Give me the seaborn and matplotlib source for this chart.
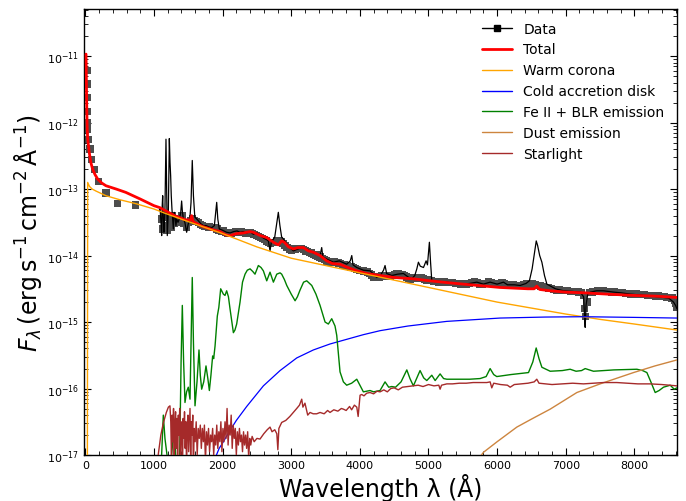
import numpy as np
import matplotlib
matplotlib.use("Agg")
import matplotlib.pyplot as plt
from matplotlib.lines import Line2D
from matplotlib.ticker import MultipleLocator, FixedLocator, LogLocator, NullFormatter
import seaborn as sns

# wavelengths in Angstrom, fluxes stored as log10(F_lambda)
phot_x = [23, 24, 25, 27, 30, 35, 50, 67, 92, 130, 195, 300, 470, 735]
phot_logf = [-11.22, -11.42, -11.62, -11.83, -12.0, -12.10, -12.25, -12.40,
             -12.56, -12.71, -12.89, -13.06, -13.22, -13.24]

# binned spectrum (grey squares)
bin_x = [1110, 1130, 1150, 1170, 1190, 1210, 1230, 1250, 1270, 1290, 1320, 1350,
         1380, 1410, 1440, 1470, 1500, 1530, 1560, 1590, 1620, 1650, 1680, 1710,
         1740, 1770, 1800, 1830, 1860, 1890, 1920, 1950, 1980, 2010, 2040, 2070,
         2100, 2130, 2160, 2190, 2220, 2250, 2280, 2310, 2340, 2370, 2400, 2430,
         2460, 2490, 2520, 2550, 2580, 2610, 2640, 2670, 2700, 2730, 2760, 2790,
         2820, 2850, 2880, 2910, 2940, 2970, 3000, 3030, 3060, 3090, 3120, 3150,
         3180, 3210, 3240, 3270, 3300, 3330, 3360, 3390, 3420, 3450, 3480, 3510,
         3540, 3570, 3600, 3630, 3660, 3690, 3720, 3750, 3780, 3810, 3840, 3870,
         3900, 3930, 3960, 3990, 4020, 4050, 4080, 4110, 4140, 4170, 4200, 4230,
         4260, 4290, 4320, 4350, 4380, 4410, 4440, 4470, 4500, 4530, 4560, 4590,
         4620, 4650, 4680, 4710, 4740, 4770, 4800, 4830, 4860, 4890, 4920, 4950,
         4980, 5010, 5040, 5070, 5110, 5150, 5190, 5230, 5270, 5310, 5350, 5390,
         5430, 5470, 5510, 5550, 5590, 5630, 5670, 5710, 5750, 5790, 5830, 5870,
         5910, 5950, 5990, 6030, 6070, 6110, 6150, 6190, 6230, 6270, 6310, 6350,
         6390, 6430, 6470, 6510, 6550, 6590, 6630, 6670, 6710, 6750, 6790, 6830,
         6870, 6910, 6950, 6990, 7030, 7070, 7110, 7150, 7190, 7230, 7260, 7275,
         7290, 7310, 7350, 7390, 7430, 7470, 7510, 7550, 7590, 7630, 7670, 7710,
         7750, 7790, 7830, 7870, 7910, 7950, 7990, 8030, 8070, 8110, 8150, 8190,
         8230, 8270, 8310, 8350, 8390, 8430, 8470, 8510, 8550, 8580, 8600, 8615]
bin_logf = [-13.45, -13.60, -13.40, -13.55, -13.62, -13.42, -13.50, -13.58, -13.40,
            -13.52, -13.45, -13.50, -13.44, -13.40, -13.52, -13.58, -13.50, -13.48,
            -13.45, -13.47, -13.49, -13.50, -13.53, -13.55, -13.56, -13.56, -13.57,
            -13.58, -13.58, -13.58, -13.60, -13.62, -13.63, -13.63, -13.65, -13.66,
            -13.67, -13.67, -13.65, -13.64, -13.64, -13.65, -13.64, -13.65,
            -13.66, -13.66, -13.66, -13.67, -13.68, -13.70, -13.71, -13.73, -13.74,
            -13.76, -13.78, -13.80, -13.81, -13.80, -13.80, -13.78, -13.77, -13.79,
            -13.82, -13.85, -13.88, -13.90, -13.92, -13.91, -13.90, -13.89, -13.89,
            -13.89, -13.91, -13.93, -13.94, -13.95, -13.96, -13.98, -13.99, -14.01,
            -14.02, -14.04, -14.06, -14.08, -14.09, -14.10, -14.10, -14.09, -14.10,
            -14.11, -14.12, -14.13, -14.14, -14.15, -14.16, -14.17, -14.18, -14.19,
            -14.21, -14.22, -14.22, -14.23, -14.24, -14.25, -14.27, -14.29, -14.32,
            -14.33, -14.33, -14.32, -14.30, -14.30, -14.31, -14.31, -14.31, -14.30,
            -14.29, -14.28, -14.28, -14.29, -14.29, -14.30, -14.32, -14.34, -14.36,
            -14.35, -14.34, -14.34, -14.34, -14.34, -14.35, -14.36, -14.37, -14.38,
            -14.38, -14.39, -14.39, -14.40, -14.40, -14.40, -14.41, -14.41, -14.41,
            -14.42, -14.42, -14.43, -14.43, -14.43, -14.42, -14.41, -14.40, -14.41,
            -14.43, -14.43, -14.42, -14.40, -14.41, -14.42, -14.43, -14.42, -14.41,
            -14.43, -14.44, -14.44, -14.44, -14.45, -14.45, -14.45, -14.44, -14.43,
            -14.43, -14.43, -14.44, -14.45, -14.46, -14.47, -14.48, -14.49, -14.50,
            -14.51, -14.52, -14.52, -14.53, -14.53, -14.53, -14.54, -14.54, -14.54,
            -14.55, -14.56, -14.60, -14.80, -14.92, -14.70, -14.56, -14.55, -14.54,
            -14.53, -14.53, -14.53, -14.54, -14.54, -14.55, -14.55, -14.56, -14.56,
            -14.56, -14.57, -14.57, -14.58, -14.58, -14.58, -14.59, -14.59, -14.59,
            -14.60, -14.60, -14.60, -14.61, -14.61, -14.62, -14.62, -14.63, -14.63,
            -14.64, -14.67, -14.72, -14.78]

# full-resolution spectrum (black line)
spec_x = [1075, 1090, 1105, 1112, 1120, 1127, 1137, 1146, 1160, 1175, 1185, 1194,
          1210, 1224, 1234, 1243, 1252, 1262, 1282, 1295, 1306, 1320, 1331, 1350,
          1370, 1390, 1403, 1415, 1428, 1450, 1476, 1500, 1520, 1540, 1558, 1575,
          1595, 1622, 1650, 1680, 1719, 1760, 1800, 1841, 1880, 1900, 1914, 1930,
          1952, 2000, 2059, 2110, 2160, 2210, 2254, 2300, 2350, 2400, 2448, 2500,
          2550, 2600, 2640, 2667, 2691, 2710, 2760, 2790, 2812, 2835, 2860, 2885,
          2950, 3031, 3100, 3170, 3226, 3300, 3380, 3420, 3444, 3460, 3530, 3614,
          3700, 3808, 3860, 3882, 3900, 3955, 4050, 4148, 4200, 4246, 4300, 4345,
          4367, 4390, 4465, 4550, 4635, 4700, 4757, 4800, 4830, 4853, 4880, 4927,
          4965, 4985, 5013, 5030, 5048, 5150, 5267, 5400, 5509, 5600, 5704, 5800,
          5898, 6000, 6092, 6150, 6250, 6335, 6420, 6470, 6510, 6545, 6570, 6590,
          6620, 6652, 6690, 6725, 6850, 6967, 7100, 7210, 7260, 7275, 7283, 7295,
          7320, 7356, 7450, 7550, 7700, 7800, 7939, 8050, 8150, 8250, 8350, 8424,
          8500, 8570, 8600, 8620]
spec_logf = [-13.32, -13.30, -13.55, -13.70, -13.25, -13.10, -13.45, -13.65, -13.30,
             -12.25, -13.00, -13.70, -13.30, -12.24, -12.60, -12.80, -13.10, -13.30,
             -13.60, -13.35, -13.40, -13.55, -13.45, -13.50, -13.45, -13.35, -13.18,
             -13.35, -13.45, -13.50, -13.65, -13.52, -13.48, -13.20, -12.57, -13.10,
             -13.42, -13.45, -13.48, -13.52, -13.55, -13.55, -13.57, -13.58, -13.55,
             -13.35, -13.20, -13.45, -13.60, -13.62, -13.65, -13.66, -13.64, -13.63,
             -13.65, -13.64, -13.66, -13.64, -13.68, -13.66, -13.70, -13.74, -13.76,
             -13.78, -13.93, -13.80, -13.72, -13.50, -13.35, -13.55, -13.72, -13.75,
             -13.85, -13.93, -13.90, -13.88, -13.90, -13.95, -13.98, -14.00, -13.88,
             -14.02, -14.06, -14.10, -14.08, -14.13, -14.08, -14.00, -14.14, -14.18,
             -14.22, -14.23, -14.28, -14.33, -14.30, -14.22, -14.15, -14.27, -14.30,
             -14.28, -14.27, -14.32, -14.35, -14.30, -14.20, -14.10, -14.16, -14.18,
             -14.08, -14.14, -13.80, -14.10, -14.38, -14.39, -14.40, -14.42, -14.43,
             -14.42, -14.40, -14.43, -14.40, -14.43, -14.40, -14.44, -14.44, -14.45,
             -14.42, -14.38, -14.20, -13.95, -13.78, -13.85, -14.00, -14.10, -14.30,
             -14.43, -14.50, -14.53, -14.54, -14.55, -14.62, -14.95, -15.08, -14.75,
             -14.58, -14.55, -14.53, -14.53, -14.55, -14.56, -14.58, -14.59, -14.60,
             -14.61, -14.62, -14.63, -14.64, -14.70, -14.75, -14.80]

total_x = [10, 14, 18, 22, 27, 35, 57, 80, 106, 140, 180, 240, 300, 450, 590, 800,
           1000, 1087, 1300, 1450, 1530, 1549, 1570, 1700, 1850, 1962, 2050, 2108,
           2200, 2302, 2400, 2448, 2550, 2643, 2740, 2813, 2860, 2900, 2960, 3031,
           3100, 3176, 3250, 3322, 3420, 3517, 3600, 3711, 3800, 3955, 4100, 4294,
           4500, 4780, 5023, 5300, 5509, 6043, 6450, 6540, 6578, 6620, 6773, 7000,
           7258, 7600, 8000, 8300, 8620]
total_logf = [-10.97, -11.30, -11.60, -11.85, -12.10, -12.25, -12.45, -12.60, -12.70,
              -12.78, -12.85, -12.91, -12.95, -13.00, -13.05, -13.15, -13.25, -13.28,
              -13.40, -13.46, -13.47, -13.40, -13.49, -13.56, -13.61, -13.64, -13.69,
              -13.70, -13.67, -13.66, -13.64, -13.65, -13.70, -13.73, -13.80, -13.84,
              -13.78, -13.80, -13.87, -13.90, -13.88, -13.88, -13.93, -13.95, -14.00,
              -14.08, -14.12, -14.13, -14.17, -14.23, -14.27, -14.30, -14.33, -14.35,
              -14.38, -14.41, -14.43, -14.48, -14.50, -14.50, -14.46, -14.51, -14.53,
              -14.55, -14.56, -14.58, -14.60, -14.61, -14.63]

warm_x = [28, 34, 60, 100, 155, 300, 500, 738, 1000, 1150, 1500, 2000, 2500, 3000,
          3500, 4000, 4500, 5000, 5500, 6000, 6500, 7000, 7500, 8000, 8620]
warm_logf = [-19.0, -12.90, -12.96, -13.00, -13.03, -13.10, -13.16, -13.22, -13.30,
             -13.36, -13.49, -13.67, -13.87, -14.04, -14.15, -14.26, -14.37, -14.48,
             -14.59, -14.70, -14.79, -14.88, -14.96, -15.03, -15.12]

disk_x = [1890, 1950, 2000, 2108, 2200, 2351, 2594, 2837, 3080, 3322, 3565, 3808,
          4051, 4294, 4700, 5267, 6043, 6700, 7258, 8000, 8620]
disk_logf = [-17.05, -16.90, -16.82, -16.63, -16.48, -16.27, -15.96, -15.73, -15.54,
             -15.42, -15.33, -15.26, -15.19, -15.13, -15.06, -14.99, -14.94, -14.925,
             -14.92, -14.93, -14.94]

feblr_x = [1090, 1112, 1136, 1160, 1190, 1230, 1270, 1295, 1320, 1370, 1395, 1413,
           1432, 1452, 1475, 1500, 1525, 1543, 1558, 1575, 1598, 1627, 1656, 1675,
           1695, 1725, 1758, 1785, 1807, 1830, 1855, 1870, 1890, 1923, 1945, 1972,
           2011, 2035, 2059, 2085, 2108, 2157, 2180, 2205, 2254, 2290, 2327, 2360,
           2400, 2440, 2472, 2521, 2560, 2594, 2643, 2691, 2740, 2789, 2837, 2861,
           2900, 2935, 3000, 3056, 3090, 3128, 3180, 3226, 3299, 3360, 3420, 3493,
           3541, 3590, 3638, 3663, 3690, 3711, 3760, 3808, 3880, 3955, 4000, 4051,
           4148, 4200, 4294, 4367, 4420, 4465, 4520, 4600, 4684, 4730, 4780, 4877,
           4930, 4975, 5048, 5097, 5169, 5220, 5267, 5400, 5600, 5752, 5840, 5898,
           5950, 5995, 6200, 6457, 6520, 6569, 6610, 6652, 6773, 6950, 7064, 7150,
           7230, 7283, 7404, 7700, 8036, 8120, 8182, 8240, 8303, 8360, 8424, 8522,
           8580, 8620]
feblr_logf = [-17.30, -16.99, -16.40, -16.75, -17.00, -17.30, -16.85, -16.60, -17.10,
              -17.30, -15.60, -14.75, -15.60, -16.21, -16.05, -15.98, -16.16, -15.20,
              -14.33, -15.30, -16.26, -15.90, -15.42, -15.80, -16.01, -15.90, -15.66,
              -15.85, -16.03, -15.80, -15.51, -15.55, -15.36, -14.91, -14.78, -14.50,
              -14.58, -14.60, -14.53, -14.62, -14.80, -15.16, -15.12, -15.03, -14.70,
              -14.40, -14.28, -14.22, -14.20, -14.24, -14.28, -14.15, -14.18, -14.23,
              -14.38, -14.25, -14.40, -14.28, -14.26, -14.28, -14.36, -14.45, -14.58,
              -14.68, -14.62, -14.52, -14.40, -14.38, -14.45, -14.58, -14.75, -15.00,
              -15.03, -14.95, -15.06, -15.20, -15.50, -15.75, -15.90, -15.95, -15.92,
              -15.86, -15.95, -16.05, -16.03, -16.05, -16.03, -15.90, -15.98, -15.97,
              -15.98, -15.90, -15.72, -15.85, -15.96, -15.73, -15.84, -15.88, -15.80,
              -15.88, -15.78, -15.85, -15.86, -15.86, -15.86, -15.85, -15.82, -15.70,
              -15.79, -15.82, -15.79, -15.76, -15.60, -15.39, -15.55, -15.68, -15.74,
              -15.73, -15.71, -15.74, -15.73, -15.70, -15.74, -15.72, -15.71, -15.73,
              -15.76, -15.90, -16.06, -16.03, -15.98, -15.95, -16.01, -15.99]

dust_x = [5750, 5800, 6000, 6287, 6500, 6773, 7162, 7501, 7987, 8300, 8620]
dust_logf = [-17.03, -16.96, -16.80, -16.58, -16.46, -16.31, -16.06, -15.93, -15.76,
             -15.66, -15.57]

star_x = [1040, 1063, 1100, 1136, 1180, 1210, 1233, 1245, 1255, 1265, 1275, 1285,
          1295, 1305, 1315, 1325, 1335, 1345, 1355, 1365, 1375, 1385, 1395, 1405,
          1415, 1425, 1435, 1445, 1455, 1465, 1475, 1485, 1495, 1505, 1515, 1525,
          1535, 1545, 1555, 1565, 1575, 1585, 1600, 1615, 1630, 1645, 1660, 1675,
          1690, 1705, 1720, 1735, 1750, 1765, 1780, 1795, 1810, 1825, 1840, 1855,
          1870, 1885, 1900, 1915, 1930, 1945, 1960, 1975, 1990, 2005, 2020, 2035,
          2050, 2065, 2080, 2095, 2110, 2125, 2140, 2155, 2170, 2185, 2200, 2215,
          2230, 2245, 2260, 2275, 2290, 2305, 2320, 2335, 2350, 2365, 2380, 2395,
          2410, 2430, 2460, 2500, 2545, 2600, 2650, 2691, 2720, 2760, 2790, 2805,
          2820, 2861, 2920, 2980, 3031, 3080, 3120, 3153, 3170, 3200, 3240, 3274,
          3320, 3371, 3420, 3480, 3530, 3565, 3620, 3680, 3730, 3760, 3800, 3850,
          3880, 3920, 3955, 3975, 3990, 4003, 4027, 4060, 4100, 4148, 4200, 4250,
          4294, 4350, 4400, 4450, 4500, 4560, 4620, 4700, 4780, 4850, 4920, 5000,
          5080, 5150, 5169, 5190, 5267, 5350, 5450, 5550, 5650, 5752, 5850, 5898,
          5922, 5950, 6050, 6150, 6190, 6250, 6350, 6450, 6540, 6578, 6610, 6700,
          6800, 6950, 7100, 7258, 7400, 7550, 7744, 7900, 8050, 8230, 8400, 8520,
          8620]
star_logf = [-17.30, -16.99, -16.70, -16.52, -16.36, -16.28, -16.26, -16.50, -17.10,
             -16.40, -16.80, -16.30, -17.20, -16.50, -16.35, -16.90, -16.45, -17.20,
             -16.40, -16.70, -16.30, -17.00, -16.50, -16.60, -17.30, -16.45, -16.75,
             -16.35, -16.90, -16.50, -17.20, -16.55, -16.40, -16.95, -16.60, -16.30,
             -17.10, -16.50, -16.70, -16.40, -17.30, -16.60, -16.80, -16.50, -17.00,
             -16.60, -16.75, -16.55, -16.90, -16.60, -16.80, -16.55, -17.10, -16.65,
             -16.85, -16.60, -16.95, -16.70, -16.80, -16.60, -17.00, -16.70, -16.85,
             -16.55, -16.90, -16.65, -16.80, -16.50, -16.95, -16.60, -16.80, -16.50,
             -16.75, -16.30, -16.85, -16.55, -16.70, -16.40, -16.90, -16.55, -16.75,
             -16.60, -17.00, -16.65, -16.85, -16.60, -16.80, -16.70, -16.95, -16.65,
             -16.85, -16.70, -16.90, -16.65, -17.05, -16.75, -16.85, -16.72, -16.80,
             -16.75, -16.76, -16.68, -16.62, -16.58, -16.65, -16.62, -16.68, -16.92,
             -16.60, -16.51, -16.48, -16.42, -16.36, -16.30, -16.25, -16.16, -16.28,
             -16.22, -16.40, -16.36, -16.38, -16.38, -16.36, -16.38, -16.33, -16.36,
             -16.32, -16.34, -16.30, -16.31, -16.33, -16.27, -16.32, -16.25, -16.28,
             -16.42, -16.25, -16.10, -16.09, -16.11, -16.07, -16.06, -16.08, -16.04,
             -16.05, -16.02, -16.05, -16.00, -15.99, -16.02, -15.98, -15.97, -15.96,
             -15.95, -15.97, -15.94, -15.96, -15.95, -16.01, -15.95, -15.93, -15.93,
             -15.92, -15.92, -15.91, -15.91, -15.91, -15.90, -15.99, -15.92, -15.94,
             -15.95, -15.98, -15.94, -15.93, -15.92, -15.90, -15.86, -15.92, -15.93,
             -15.94, -15.93, -15.92, -15.93, -15.92, -15.91, -15.91, -15.92, -15.93,
             -15.93, -15.94, -15.95, -15.96]

y_major = [1e-17, 1e-16, 1e-15, 1e-14, 1e-13, 1e-12, 1e-11]


def flux(logf):
    return 10 ** np.asarray(logf, dtype=float)


sns.set_style("ticks", {"axes.edgecolor": "black", "xtick.color": "black",
                        "ytick.color": "black", "text.color": "black",
                        "axes.labelcolor": "black"})
plt.rcParams["font.family"] = ["DejaVu Sans"]
plt.rcParams["mathtext.fontset"] = "dejavusans"

fig = plt.figure(figsize=(6.86, 5.02), dpi=100)
ax = fig.add_axes([0.1224, 0.0916, 0.8644, 0.8884])
ax.set_yscale("log")

# data: grey squares with the black spectrum over them
sns.scatterplot(x=phot_x, y=flux(phot_logf), marker="s", s=28, color="0.3",
                edgecolor="none", ax=ax, zorder=2)
sns.scatterplot(x=bin_x, y=flux(bin_logf), marker="s", s=28, color="0.3",
                edgecolor="none", ax=ax, zorder=2)
sns.lineplot(x=spec_x, y=flux(spec_logf), color="black", lw=0.9, ax=ax, zorder=3)

sns.lineplot(x=total_x, y=flux(total_logf), color="red", lw=2, ax=ax, zorder=4)
sns.lineplot(x=warm_x, y=flux(warm_logf), color="orange", lw=1, ax=ax, zorder=4)
sns.lineplot(x=disk_x, y=flux(disk_logf), color="blue", lw=0.9, ax=ax, zorder=4)
sns.lineplot(x=feblr_x, y=flux(feblr_logf), color="green", lw=1, ax=ax, zorder=4)
sns.lineplot(x=dust_x, y=flux(dust_logf), color="peru", lw=1, ax=ax, zorder=4)
sns.lineplot(x=star_x, y=flux(star_logf), color="brown", lw=1, ax=ax, zorder=4)

ax.set_xlim(-20, 8620)
ax.set_ylim(1e-17, 5.1e-11)
ax.xaxis.set_major_locator(MultipleLocator(1000))
ax.xaxis.set_minor_locator(MultipleLocator(200))
ax.yaxis.set_major_locator(FixedLocator(y_major))
ax.yaxis.set_minor_locator(LogLocator(base=10, subs=np.arange(2, 10), numticks=20))
ax.yaxis.set_minor_formatter(NullFormatter())
ax.tick_params(which="both", direction="in", top=True, right=True, labelsize=8)
ax.tick_params(which="major", length=5)
ax.tick_params(which="minor", length=3)
for sp in ax.spines.values():
    sp.set_visible(True)
    sp.set_linewidth(1)

ax.set_xlabel("Wavelength λ (Å)", fontsize=17, labelpad=2)
ax.set_ylabel(r"$F_{\lambda}\,(\mathrm{erg\,s^{-1}\,cm^{-2}\,\AA^{-1}})$",
              fontsize=17, labelpad=2)

handles = [
    Line2D([], [], color="black", lw=1, marker="s", markersize=5),
    Line2D([], [], color="red", lw=2),
    Line2D([], [], color="orange", lw=1),
    Line2D([], [], color="blue", lw=1),
    Line2D([], [], color="green", lw=1),
    Line2D([], [], color="peru", lw=1),
    Line2D([], [], color="brown", lw=1),
]
labels = ["Data", "Total", "Warm corona", "Cold accretion disk",
          "Fe II + BLR emission", "Dust emission", "Starlight"]
ax.legend(handles, labels, loc="upper right", frameon=False, fontsize=10,
          handlelength=2.2)

fig.savefig("out.png", dpi=100)
